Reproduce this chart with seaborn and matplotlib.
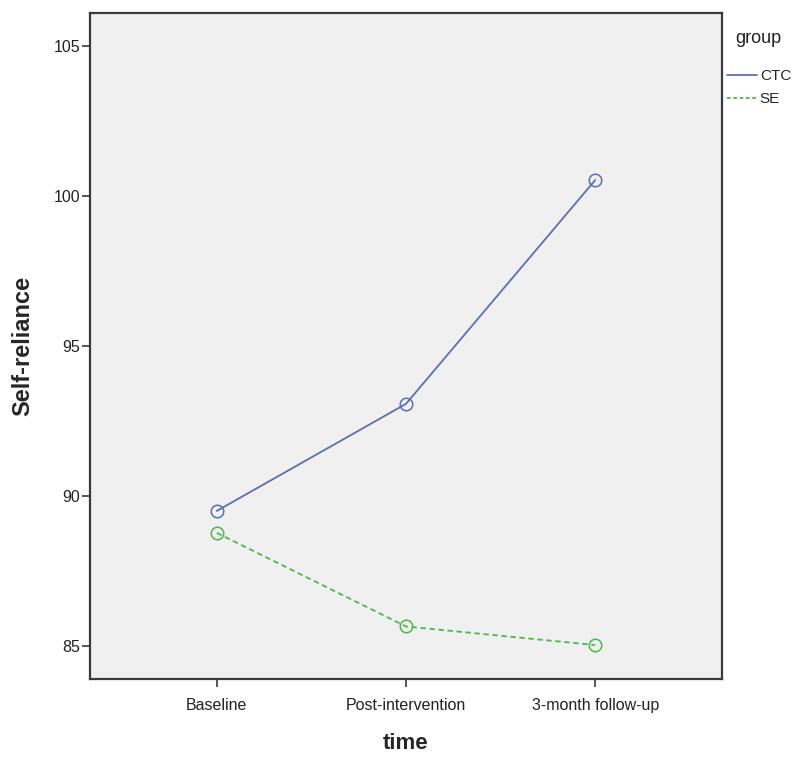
import seaborn as sns
import matplotlib.pyplot as plt
from matplotlib.lines import Line2D
import pandas as pd

# values
time_points = ['Baseline', 'Post-intervention', '3-month follow-up']
ctc_scores = [89.49, 93.06, 100.52]
se_scores = [88.76, 85.64, 85.02]
groups = ['CTC', 'SE']

df = pd.DataFrame({
    'time': time_points * 2,
    'score': ctc_scores + se_scores,
    'group': [groups[0]] * 3 + [groups[1]] * 3,
})

sns.set_style('white')
plt.rcParams['font.family'] = ['Liberation Sans', 'DejaVu Sans']

palette = {'CTC': '#5f6db5', 'SE': '#4cb84c'}

fig = plt.figure(figsize=(8, 7.62), dpi=100)
ax = fig.add_axes([0.1125, 0.109, 0.79, 0.874])

sns.lineplot(ax=ax, data=df, x='time', y='score', hue='group', style='group',
             palette=palette, markers={'CTC': 'o', 'SE': 'o'},
             dashes={'CTC': '', 'SE': (3, 2)}, linewidth=1.3,
             markersize=9, legend=False)
for line in ax.lines:
    line.set_markerfacecolor('none')
    line.set_markeredgewidth(1.1)
    line.set_markeredgecolor(line.get_color())

ax.set_facecolor('#f0f0f0')
ax.set_xlim(-0.67, 2.67)
ax.set_ylim(83.89, 106.09)
ax.set_yticks([85, 90, 95, 100, 105])

for s in ax.spines.values():
    s.set_color('#3a3a3a')
    s.set_linewidth(1.6)

ax.tick_params(axis='both', which='major', direction='out', length=6,
               width=1.2, color='#3a3a3a', labelsize=11.5, labelcolor='#222222',
               left=True, bottom=True)
ax.tick_params(axis='y', pad=1)
ax.tick_params(axis='x', pad=8)

ax.set_xlabel('time', fontsize=16, fontweight='bold', labelpad=14)
ax.set_ylabel('Self-reliance', fontsize=17, fontweight='bold', labelpad=14)

# legend: title as a separate text, entries below it
fig.text(735 / 800, 1 - 43 / 762, 'group', fontsize=13, color='#222222',
         va='baseline', ha='left')
handles = [Line2D([], [], color=palette['CTC'], lw=1.3),
           Line2D([], [], color=palette['SE'], lw=1.3, dashes=(2, 1.5))]
fig.legend(handles, groups, loc='upper left',
           bbox_to_anchor=(727 / 800, 1 - 69 / 762), frameon=False,
           fontsize=11, handlelength=1.95, handletextpad=0.2,
           borderpad=0, borderaxespad=0, labelspacing=0.62)

fig.savefig('out.png', dpi=100)
